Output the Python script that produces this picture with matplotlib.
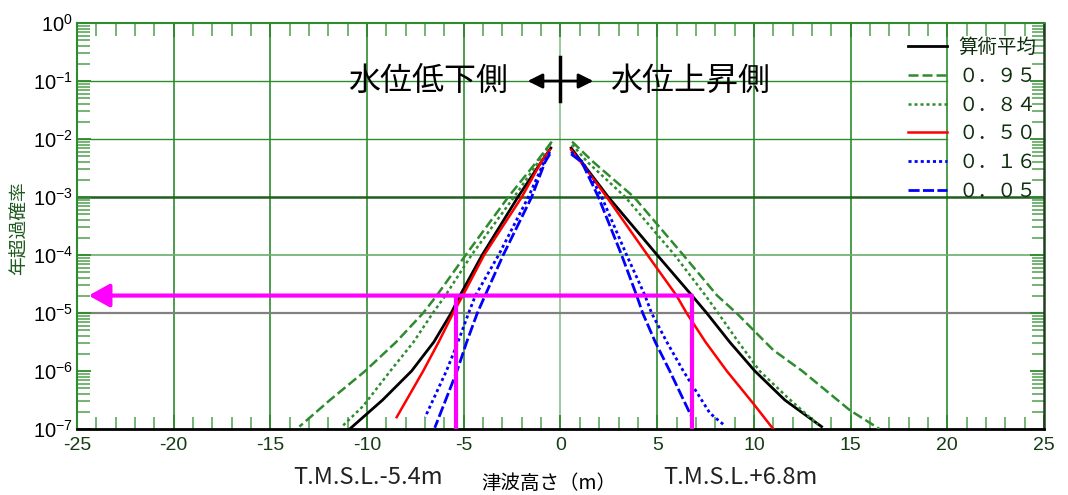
#*********************************
# Tsunami height hazard curves (annual exceedance probability)
#*********************************

import matplotlib
matplotlib.use("Agg")
import matplotlib.pyplot as plt
from matplotlib.patches import FancyArrowPatch

plt.rcParams['font.family'] = ['Noto Sans CJK JP', 'DejaVu Sans']
num_font = ['Liberation Sans', 'DejaVu Sans']

#=================================
# Data
#=================================
labels = ['算術平均', '０．９５', '０．８４', '０．５０', '０．１６', '０．０５']

# water level decrease side (negative heights)
mean_lo_x = [-0.5, -1.0, -2.2, -4.05, -5.2, -5.65, -6.55, -7.7, -9.2, -10.9]
mean_lo_p = [7e-3, 4e-3, 1e-3, 1e-4, 2e-5, 1e-5, 3.16e-6, 1e-6, 3.16e-7, 1.0e-7]
f95_lo_x = [-0.45, -1.25, -2.7, -4.9, -6.4, -7.1, -8.5, -10.1, -11.9, -13.5]
f95_lo_p = [9e-3, 4e-3, 1e-3, 1e-4, 2e-5, 1e-5, 3.16e-6, 1e-6, 3.2e-7, 1.1e-7]
f84_lo_x = [-0.5, -1.15, -2.4, -4.6, -5.95, -6.6, -7.6, -8.8, -10.2, -11.3]
f84_lo_p = [8.5e-3, 4e-3, 1e-3, 1e-4, 2e-5, 1e-5, 3.16e-6, 1e-6, 2.5e-7, 1.1e-7]
f50_lo_x = [-0.55, -1.0, -2.0, -3.95, -5.05, -5.55, -6.3, -7.1, -8.47]
f50_lo_p = [6.5e-3, 4e-3, 1e-3, 1e-4, 2e-5, 1e-5, 3.16e-6, 1e-6, 1.6e-7]
f16_lo_x = [-0.55, -0.85, -1.66, -3.2, -4.4, -4.75, -5.3, -5.9, -7.0]
f16_lo_p = [6e-3, 4e-3, 1e-3, 1e-4, 2e-5, 1e-5, 3.16e-6, 1e-6, 1.6e-7]
f05_lo_x = [-0.55, -0.8, -1.49, -2.96, -3.9, -4.3, -4.85, -5.35, -6.5]
f05_lo_p = [5.5e-3, 4e-3, 1e-3, 1e-4, 2e-5, 1e-5, 3.16e-6, 1e-6, 1.05e-7]

# water level rise side (positive heights)
mean_hi_x = [0.55, 1.1, 2.47, 5.0, 6.8, 7.56, 8.75, 10.05, 11.6, 13.5]
mean_hi_p = [7e-3, 4e-3, 1e-3, 1e-4, 2e-5, 1e-5, 3.16e-6, 1e-6, 3.16e-7, 1.1e-7]
f95_hi_x = [0.6, 1.7, 3.8, 6.35, 8.1, 9.1, 11.0, 12.5, 14.97, 16.5]
f95_hi_p = [9e-3, 4e-3, 1e-3, 1e-4, 2e-5, 1e-5, 2.3e-6, 1e-6, 2.1e-7, 1.0e-7]
f84_hi_x = [0.6, 1.4, 3.35, 5.9, 7.5, 8.15, 9.2, 10.3, 11.7, 13.3]
f84_hi_p = [8e-3, 4e-3, 1e-3, 1e-4, 2e-5, 1e-5, 3.16e-6, 1e-6, 3.6e-7, 1.2e-7]
f50_hi_x = [0.55, 1.05, 2.39, 4.5, 6.0, 6.52, 7.5, 8.6, 9.97, 11.0]
f50_hi_p = [6.5e-3, 4e-3, 1e-3, 1e-4, 2e-5, 1e-5, 3.16e-6, 1e-6, 2.75e-7, 1e-7]
f16_hi_x = [0.55, 1.15, 2.13, 3.42, 4.37, 4.71, 5.5, 6.35, 7.73, 8.42]
f16_hi_p = [6e-3, 4e-3, 1e-3, 1e-4, 2e-5, 1e-5, 3.16e-6, 1e-6, 1.87e-7, 1.2e-7]
f05_hi_x = [0.55, 1.1, 1.96, 3.16, 3.94, 4.25, 4.9, 5.65, 6.75]
f05_hi_p = [5.5e-3, 4e-3, 1e-3, 1e-4, 2e-5, 1e-5, 3.16e-6, 1e-6, 1.7e-7]

# design values marked in magenta
target_p = 2e-5
target_lo = -5.4
target_hi = 6.8

x_ticks = [-25, -20, -15, -10, -5, 0, 5, 10, 15, 20, 25]
y_exps = [0, -1, -2, -3, -4, -5, -6, -7]

#=================================
# Figure
#=================================
fig = plt.figure(figsize=(10.68, 4.95), dpi=100)
ax = fig.add_axes([0.0721, 0.1333, 0.9054, 0.8202])
ax.set_yscale('log')
ax.set_xlim(-25, 25)
ax.set_ylim(1e-7, 1)

green = '#2e8b2e'

# grid lines
for xv in x_ticks[1:-1]:
    ax.axvline(xv, color=green, lw=1.2, alpha=0.55 if xv == 0 else 1.0, zorder=1)
ax.axhline(1e-1, xmax=0.9, color=green, lw=1.0, zorder=1)
ax.axhline(1e-2, xmax=0.9, color=green, lw=1.0, zorder=1)
ax.axhline(1e-3, color='#1f5f1f', lw=1.8, zorder=1)
ax.axhline(1e-4, color='#6cae6c', lw=1.2, zorder=1)
ax.axhline(1e-5, color='#808080', lw=1.6, zorder=1)

# curves
styles = [
    dict(color='black', lw=2.0, ls='-'),
    dict(color=green, lw=1.8, ls=(0, (4, 1.6))),
    dict(color=green, lw=1.8, ls=(0, (1.2, 1.2))),
    dict(color='#ff0000', lw=1.8, ls='-'),
    dict(color='#0000ff', lw=2.0, ls=(0, (1.1, 1.1))),
    dict(color='#0000ff', lw=2.0, ls=(0, (4, 1.2))),
]
lo = [(mean_lo_x, mean_lo_p), (f95_lo_x, f95_lo_p), (f84_lo_x, f84_lo_p),
      (f50_lo_x, f50_lo_p), (f16_lo_x, f16_lo_p), (f05_lo_x, f05_lo_p)]
hi = [(mean_hi_x, mean_hi_p), (f95_hi_x, f95_hi_p), (f84_hi_x, f84_hi_p),
      (f50_hi_x, f50_hi_p), (f16_hi_x, f16_hi_p), (f05_hi_x, f05_hi_p)]
for i in range(len(labels)):
    ax.plot(lo[i][0], lo[i][1], label=labels[i], zorder=3, **styles[i])
    ax.plot(hi[i][0], hi[i][1], zorder=3, **styles[i])

# magenta markers
ax.vlines([target_lo, target_hi], 1e-7, target_p, color='magenta', lw=3, zorder=4)
arr = FancyArrowPatch((target_hi, target_p), (-24.4, target_p),
                      arrowstyle='-|>,head_length=0.9,head_width=0.5',
                      mutation_scale=14, lw=3, color='magenta',
                      shrinkA=0, shrinkB=0, zorder=4)
ax.add_patch(arr)

# side annotations
ax.text(-6.85, 1e-1, '水位低下側', fontsize=23, ha='center', va='center', zorder=5)
ax.text(6.7, 1e-1, '水位上昇側', fontsize=23, ha='center', va='center', zorder=5)
ax.annotate('', xy=(-1.7, 1e-1), xytext=(1.7, 1e-1),
            arrowprops=dict(arrowstyle='<|-|>', color='black', lw=2,
                            mutation_scale=22, shrinkA=0, shrinkB=0), zorder=5)
ax.plot([0, 0], [0.263, 0.0457], color='black', lw=2.5, zorder=5)

# ticks
ax.set_xticks(x_ticks)
ax.set_xticklabels([str(v) for v in x_ticks], fontsize=14, fontfamily=num_font,
                   color='#143d14')
ax.set_xticks(range(-25, 26), minor=True)
ax.set_yticks([10.0 ** e for e in y_exps])
ax.set_yticklabels([r'$\mathregular{10^{%d}}$' % e for e in y_exps], fontsize=14.5,
                   fontfamily=num_font)
ax.tick_params(which='both', direction='in', top=True, right=True, width=1.3)
ax.tick_params(which='major', length=10, pad=3, color=green)
ax.tick_params(which='minor', length=9, color='#6aaf6a')
ax.tick_params(axis='x', which='major', pad=6)

for s in ['left', 'top']:
    ax.spines[s].set_color(green)
    ax.spines[s].set_linewidth(1.5)
ax.spines['right'].set_color('#1f3f1f')
ax.spines['right'].set_linewidth(1.8)
ax.spines['bottom'].set_color('black')
ax.spines['bottom'].set_linewidth(2)

# legend
leg = ax.legend(loc='upper right', bbox_to_anchor=(1.0, 0.985), frameon=False,
                fontsize=14, handlelength=2.0, handletextpad=0.6,
                labelspacing=0.4, borderaxespad=0.0)
for t in leg.get_texts():
    t.set_color('#0f2f0f')

# axis texts
fig.text(0.018, 0.54, '年超過確率', rotation=90, fontsize=13.5, color='#1e5a1e',
         ha='center', va='center')
fig.text(0.345, 0.036, 'T.M.S.L.-5.4m', fontsize=17, ha='center', va='center',
         color='#222222')
fig.text(0.514, 0.024, '津波高さ（m）', fontsize=14, ha='center', va='center')
fig.text(0.693, 0.036, 'T.M.S.L.+6.8m', fontsize=17, ha='center', va='center',
         color='#222222')

fig.savefig('out.png', dpi=100)
